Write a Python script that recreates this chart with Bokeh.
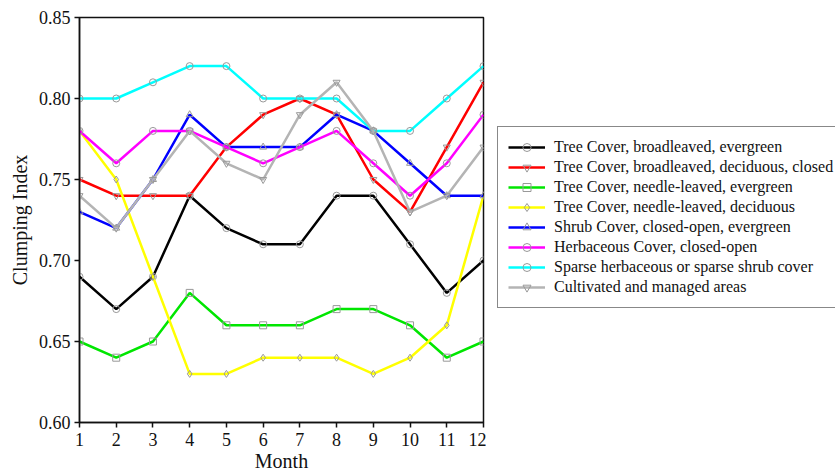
from bokeh.plotting import figure
from bokeh.models import Legend, LegendItem, FixedTicker, NumeralTickFormatter, Range1d
from bokeh.layouts import row
from bokeh.embed import file_html
from bokeh.resources import INLINE

months = [1, 2, 3, 4, 5, 6, 7, 8, 9, 10, 11, 12]
tree_bl_ever = [0.69, 0.67, 0.69, 0.74, 0.72, 0.71, 0.71, 0.74, 0.74, 0.71, 0.68, 0.70]
tree_bl_decid = [0.75, 0.74, 0.74, 0.74, 0.77, 0.79, 0.80, 0.79, 0.75, 0.73, 0.77, 0.81]
tree_nl_ever = [0.65, 0.64, 0.65, 0.68, 0.66, 0.66, 0.66, 0.67, 0.67, 0.66, 0.64, 0.65]
tree_nl_decid = [0.78, 0.75, 0.69, 0.63, 0.63, 0.64, 0.64, 0.64, 0.63, 0.64, 0.66, 0.74]
shrub = [0.73, 0.72, 0.75, 0.79, 0.77, 0.77, 0.77, 0.79, 0.78, 0.76, 0.74, 0.74]
herb = [0.78, 0.76, 0.78, 0.78, 0.77, 0.76, 0.77, 0.78, 0.76, 0.74, 0.76, 0.79]
sparse = [0.80, 0.80, 0.81, 0.82, 0.82, 0.80, 0.80, 0.80, 0.78, 0.78, 0.80, 0.82]
cultivated = [0.74, 0.72, 0.75, 0.78, 0.76, 0.75, 0.79, 0.81, 0.78, 0.73, 0.74, 0.77]

series_names = [
    "Tree Cover, broadleaved, evergreen",
    "Tree Cover, broadleaved, deciduous, closed",
    "Tree Cover, needle-leaved, evergreen",
    "Tree Cover, needle-leaved, deciduous",
    "Shrub Cover, closed-open, evergreen",
    "Herbaceous Cover, closed-open",
    "Sparse herbaceous or sparse shrub cover",
    "Cultivated and managed areas",
]
series_values = [tree_bl_ever, tree_bl_decid, tree_nl_ever, tree_nl_decid,
                 shrub, herb, sparse, cultivated]
colors = ["#000000", "#ff0000", "#00e600", "#ffff00", "#0000ff", "#ff00ff", "#00ffff", "#b4b4b4"]
markers = ["circle", "inverted_triangle", "square", "diamond", "triangle", "circle", "circle", "inverted_triangle"]
y_ticks = [0.60, 0.65, 0.70, 0.75, 0.80, 0.85]

FONT = "Liberation Serif"

# main chart
p = figure(width=486, height=474, output_backend="svg", toolbar_location=None,
           min_border_left=79, min_border_right=3, min_border_top=17, min_border_bottom=52,
           x_range=Range1d(1, 12), y_range=Range1d(0.60, 0.85))
p.grid.visible = False
p.outline_line_color = "#111111"
p.outline_line_width = 1.5
p.background_fill_color = "white"
p.border_fill_color = "white"

for ax in (p.xaxis[0], p.yaxis[0]):
    ax.axis_line_width = 1.5
    ax.axis_line_color = "#111111"
    ax.major_tick_line_color = "#111111"
    ax.major_tick_line_width = 1.5
    ax.major_tick_in = 0
    ax.major_tick_out = 5
    ax.minor_tick_line_color = None
    ax.major_label_text_font = FONT
    ax.major_label_text_font_size = "18px"
    ax.major_label_text_color = "#111111"
    ax.axis_label_text_font = FONT
    ax.axis_label_text_font_size = "20px"
    ax.axis_label_text_font_style = "normal"
    ax.axis_label_text_color = "#111111"

p.xaxis.ticker = FixedTicker(ticks=months)
p.xaxis.axis_label = "Month"
p.xaxis.major_label_standoff = 5
p.xaxis.axis_label_standoff = 1
p.yaxis.ticker = FixedTicker(ticks=y_ticks)
p.yaxis.formatter = NumeralTickFormatter(format="0.00")
p.yaxis.axis_label = "Clumping Index"
p.yaxis.major_label_standoff = 4
p.yaxis.axis_label_standoff = 5

# legend panel (frame aligned with the main chart's frame)
lg = figure(width=349, height=474, output_backend="svg", toolbar_location=None,
            min_border=0, x_axis_type=None, y_axis_type=None,
            x_range=Range1d(0, 1), y_range=Range1d(0, 1))
lg.grid.visible = False
lg.outline_line_color = None
lg.background_fill_color = "white"
lg.border_fill_color = "white"

items = []
for name, vals, c, m in zip(series_names, series_values, colors, markers):
    p.line(months, vals, line_color=c, line_width=2.5)
    p.scatter(months, vals, marker=m, size=7, line_color="#999999",
              line_width=1, fill_alpha=0)
    # proxy glyphs placed outside the (hidden) ranges, only used by the legend
    l1 = lg.line([-5, -4], [-5, -4], line_color=c, line_width=2.5)
    l2 = lg.scatter([-5], [-5], marker=m, size=7, line_color="#999999",
                    line_width=1, fill_alpha=0)
    items.append(LegendItem(label=name, renderers=[l1, l2]))

legend = Legend(items=items, location=(11, 114))
legend.label_text_font = FONT
legend.label_text_font_size = "16px"
legend.label_text_color = "#111111"
legend.label_height = 20
legend.glyph_height = 20
legend.glyph_width = 37
legend.label_standoff = 9
legend.padding = 10
legend.spacing = 0
legend.margin = 0
legend.border_line_color = "#111111"
legend.border_line_width = 1.5
legend.background_fill_color = "white"
legend.background_fill_alpha = 1
lg.add_layout(legend, "center")

layout = row(p, lg, spacing=0)
open("out.html", "w").write(file_html(layout, INLINE))
